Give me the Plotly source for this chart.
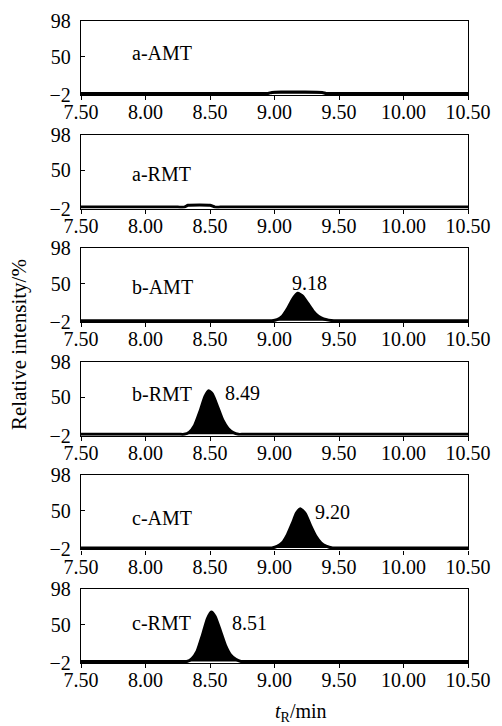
import plotly.graph_objects as go
from plotly.subplots import make_subplots

# ---- data ----
panel_labels = ["a-AMT", "a-RMT", "b-AMT", "b-RMT", "c-AMT", "c-RMT"]
label_y = [55, 45, 45, 55, 41, 52]

a_amt_x = [7.50, 8.90, 8.95, 8.98, 9.05, 9.22, 9.37, 9.40, 9.45, 10.50]
a_amt_y = [0, 0, 0, 1.5, 2.0, 2.0, 1.5, 0, 0, 0]

a_rmt_x = [7.50, 8.25, 8.30, 8.33, 8.42, 8.50, 8.54, 8.58, 10.50]
a_rmt_y = [0, 0, 0, 2.5, 3.0, 2.5, 0, 0, 0]

b_amt_x = [7.50, 8.94, 8.98, 9.02, 9.06, 9.10, 9.14, 9.18, 9.22, 9.26, 9.30, 9.34, 9.38, 9.42, 9.46, 9.50, 10.50]
b_amt_y = [0, 0, 0, 1.5, 6, 16, 29, 37, 33, 23, 13, 6, 2.5, 0.8, 0, 0, 0]

b_rmt_x = [7.50, 8.26, 8.30, 8.34, 8.38, 8.42, 8.46, 8.49, 8.52, 8.56, 8.60, 8.64, 8.68, 8.72, 8.76, 10.50]
b_rmt_y = [0, 0, 0, 3, 12, 30, 51, 59, 54, 37, 19, 8, 2.5, 0, 0, 0]

c_amt_x = [7.50, 8.94, 8.98, 9.02, 9.06, 9.10, 9.14, 9.17, 9.20, 9.24, 9.28, 9.32, 9.36, 9.40, 9.45, 9.49, 10.50]
c_amt_y = [0, 0, 0, 2, 7, 18, 34, 47, 53, 46, 30, 16, 7, 2.5, 0, 0, 0]

c_rmt_x = [7.50, 8.28, 8.32, 8.36, 8.40, 8.44, 8.48, 8.51, 8.54, 8.58, 8.62, 8.66, 8.70, 8.74, 8.78, 10.50]
c_rmt_y = [0, 0, 0, 4, 14, 35, 58, 67, 61, 42, 22, 9, 3, 0, 0, 0]

peak_labels = [None, None, "9.18", "8.49", "9.20", "8.51"]
peak_label_x = [None, None, 9.27, 8.75, 9.45, 8.81]
peak_label_y = [None, None, 51, 56, 48, 52]

x_ticks = [7.50, 8.00, 8.50, 9.00, 9.50, 10.00, 10.50]
y_ticks = [-2, 50, 98]
y_ticktext = ["\u22122", "50", "98"]

series = [(a_amt_x, a_amt_y), (a_rmt_x, a_rmt_y), (b_amt_x, b_amt_y),
          (b_rmt_x, b_rmt_y), (c_amt_x, c_amt_y), (c_rmt_x, c_rmt_y)]
filled = [True, False, True, True, True, True]

FONT = "Liberation Serif"
FS = 20
OFF = 8  # page body margin
W, H = 502 - OFF, 726 - OFF
L, R, T, B = 81 - OFF, 34, 21 - OFF, 63

fig = make_subplots(rows=6, cols=1, vertical_spacing=0.0617)

for i, (xs, ys) in enumerate(series):
    r = i + 1
    fig.add_trace(go.Scatter(
        x=xs, y=ys, mode="lines", line=dict(color="black", width=3, shape="spline", smoothing=0.5),
        fill="tozeroy" if filled[i] else None, fillcolor="black", showlegend=False,
        hoverinfo="skip"), row=r, col=1)
    fig.update_xaxes(range=[7.5, 10.5], tickvals=x_ticks, tickformat=".2f",
                     ticks="outside", ticklen=4, tickwidth=1.2, tickcolor="black",
                     showline=True, linecolor="black", linewidth=1.3, mirror=True,
                     showgrid=False, zeroline=False, automargin=False,
                     ticklabelstandoff=-5,
                     tickfont=dict(family=FONT, size=FS, color="black"), row=r, col=1)
    fig.update_yaxes(range=[-2, 98], tickvals=y_ticks, ticktext=y_ticktext,
                     ticks="inside", ticklen=4, tickwidth=1.2, tickcolor="black",
                     showline=True, linecolor="black", linewidth=1.3, mirror=True,
                     showgrid=False, zeroline=False, automargin=False,
                     ticklabelstandoff=5,
                     tickfont=dict(family=FONT, size=FS, color="black"), row=r, col=1)
    xr = "x" if r == 1 else f"x{r}"
    yr = "y" if r == 1 else f"y{r}"
    fig.add_annotation(x=7.88, y=label_y[i], xref=xr, yref=yr, text=panel_labels[i],
                       showarrow=False, xanchor="left", yanchor="middle",
                       font=dict(family=FONT, size=FS, color="black"))
    if peak_labels[i]:
        fig.add_annotation(x=peak_label_x[i], y=peak_label_y[i], xref=xr, yref=yr,
                           text=peak_labels[i], showarrow=False, xanchor="center",
                           yanchor="middle", font=dict(family=FONT, size=FS, color="black"))

pw, ph = W - L - R, H - T - B
# positions given in page pixels, converted to paper coords
fig.add_annotation(x=(19 - 81) / pw, y=(663 - 345) / ph, xref="paper", yref="paper",
                   text="Relative intensity/%", showarrow=False, textangle=-90,
                   xanchor="center", yanchor="middle",
                   font=dict(family=FONT, size=21, color="black"))
fig.add_annotation(x=(301 - 81) / pw, y=(663 - 713) / ph, xref="paper", yref="paper",
                   text="<i>t</i><sub>R</sub>/min", showarrow=False,
                   xanchor="center", yanchor="middle",
                   font=dict(family=FONT, size=FS, color="black"))

fig.update_layout(width=W, height=H, margin=dict(l=L, r=R, t=T, b=B, autoexpand=False),
                  plot_bgcolor="white", paper_bgcolor="white",
                  font=dict(family=FONT, size=FS, color="black"))
fig.write_html("out.html")
